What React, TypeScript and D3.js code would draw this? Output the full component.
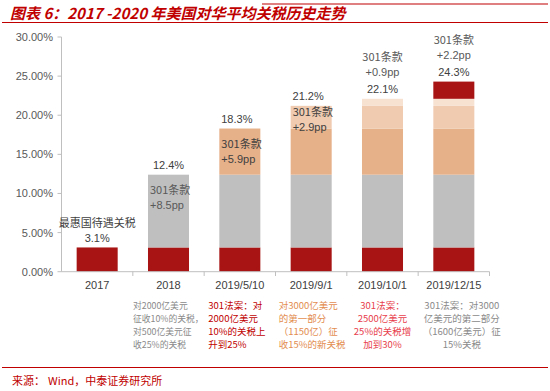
import React from "react";
import * as d3 from "d3";

const categories = ["2017", "2018", "2019/5/10", "2019/9/1", "2019/10/1", "2019/12/15"];
const mfn = [3.1, 3.1, 3.1, 3.1, 3.1, 3.1];
const s301a = [0, 9.3, 9.3, 9.3, 9.3, 9.3];
const s301b = [0, 0, 5.9, 5.9, 5.9, 5.9];
const s301c = [0, 0, 0, 2.9, 2.9, 2.9];
const s301d = [0, 0, 0, 0, 0.9, 0.9];
const s301e = [0, 0, 0, 0, 0, 2.2];
const totals = ["3.1%", "12.4%", "18.3%", "21.2%", "22.1%", "24.3%"];
const incLabels = ["", "+8.5pp", "+5.9pp", "+2.9pp", "+0.9pp", "+2.2pp"];
const yTicks = [0, 5, 10, 15, 20, 25, 30];
const notes = [
  [],
  ["对2000亿美元", "征收10%的关税，", "对500亿美元征", "收25%的关税"],
  ["301法案：对", "2000亿美元", "10%的关税上", "升到25%"],
  ["对3000亿美元", "的第一部分", "（1150亿）征", "收15%的新关税"],
  ["301法案：", "2500亿美元", "25%的关税增", "加到30%"],
  ["301法案：对3000", "亿美元的第二部分", "（1600亿美元）征", "15%关税"],
];
const noteColors = ["#7f7f7f", "#8a8a8a", "#c00000", "#e38d4f", "#e8404c", "#8a8a8a"];
const seriesKeys = ["mfn", "a", "b", "c", "d", "e"];
const seriesColors = ["#a81414", "#bfbfbf", "#e6b089", "#f0cbb0", "#f7e1d1", "#a81414"];

const W = 550, H = 391;
const CJK = "'Noto Sans CJK SC', sans-serif";
const LAT = "'Liberation Sans', Arial, sans-serif";

export default function App() {
  const x = d3.scaleBand<string>().domain(categories).range([61.5, 489.5]).paddingInner(0.425).paddingOuter(0.2125);
  const y = d3.scaleLinear().domain([0, 30]).range([271.7, 37]);
  const rows = categories.map((c, i) => ({
    cat: c, mfn: mfn[i], a: s301a[i], b: s301b[i], c: s301c[i], d: s301d[i], e: s301e[i],
  }));
  const stack = d3.stack<any>().keys(seriesKeys)(rows);
  const step = x.step();
  const bw = x.bandwidth();
  const cx = (c: string) => (x(c) as number) + bw / 2;
  const totalVals = categories.map((_, i) => mfn[i] + s301a[i] + s301b[i] + s301c[i] + s301d[i] + s301e[i]);
  const textCol = "#404040";

  return (
    <svg width={W} height={H} style={{ position: "absolute", left: 0, top: 0, background: "#fff" }}>
      {/* header */}
      <text x={10} y={19} fill="#c00000" fontFamily={CJK} fontSize={15} fontWeight="bold" fontStyle="italic">
        图表 6：2017 -2020 年美国对华平均关税历史走势
      </text>
      <line x1={262} x2={548} y1={4} y2={4} stroke="#c00000" strokeWidth={1.2} />
      <line x1={2} x2={548} y1={22.5} y2={22.5} stroke="#c00000" strokeWidth={1.2} />

      {/* y axis */}
      <line x1={61.5} x2={61.5} y1={y(30)} y2={y(0)} stroke="#bfbfbf" />
      {yTicks.map((t) => (
        <g key={t}>
          <line x1={57.5} x2={61.5} y1={y(t)} y2={y(t)} stroke="#bfbfbf" />
          <text x={53} y={y(t) + 4} textAnchor="end" fontFamily={LAT} fontSize={11} fill="#595959">
            {t.toFixed(2)}%
          </text>
        </g>
      ))}

      {/* bars */}
      {stack.map((s, si) => (
        <g key={si} fill={seriesColors[si]}>
          {s.map((d, i) =>
            d[1] - d[0] > 0 ? (
              <rect key={i} x={x(categories[i])} width={bw} y={y(d[1])} height={y(d[0]) - y(d[1])} />
            ) : null
          )}
        </g>
      ))}

      {/* x axis */}
      <line x1={61.5} x2={489.5} y1={271.7} y2={271.7} stroke="#bfbfbf" />
      {categories.map((c, i) => (
        <line key={"t" + i} x1={61.5 + (i + 1) * step} x2={61.5 + (i + 1) * step} y1={271.7} y2={276} stroke="#bfbfbf" />
      ))}
      {categories.map((c) => (
        <text key={"x" + c} x={cx(c)} y={289} textAnchor="middle" fontFamily={LAT} fontSize={11} fill={textCol}>
          {c}
        </text>
      ))}

      {/* total labels */}
      {categories.map((c, i) => (
        <text key={"tot" + i} x={cx(c) + (i === 2 ? -3 : i === 3 ? -3 : 0)} y={y(totalVals[i]) - (i === 0 ? 5 : 6)} textAnchor="middle" fontFamily={LAT} fontSize={11} fill={textCol}>
          {totals[i]}
        </text>
      ))}
      <text x={cx(categories[0])} y={y(totalVals[0]) - 20} textAnchor="middle" fontFamily={CJK} fontSize={11} fill={textCol}>
        最惠国待遇关税
      </text>

      {/* 301 labels inside bars (2018, 5/10, 9/1) */}
      {[1, 2, 3].map((i) => {
        const top = i === 1 ? y(12.4) : i === 2 ? y(18.3) : y(21.2);
        const off = i === 1 ? 19 : i === 2 ? 19 : 10;
        const col = i === 1 ? "#595959" : "#404040";
        return (
          <g key={"in" + i}>
            <text x={(x(categories[i]) as number) + 2} y={top + off} fontFamily={CJK} fontSize={11} fill={col}>
              301条款
            </text>
            <text x={(x(categories[i]) as number) + 2} y={top + off + 15} fontFamily={LAT} fontSize={11} fill={col}>
              {incLabels[i]}
            </text>
          </g>
        );
      })}
      {/* 301 labels above bars (10/1, 12/15) */}
      {[4, 5].map((i) => {
        const base = y(totalVals[i]) - 6;
        return (
          <g key={"ab" + i}>
            <text x={cx(categories[i])} y={base - 32} textAnchor="middle" fontFamily={CJK} fontSize={11} fill="#595959">
              301条款
            </text>
            <text x={cx(categories[i])} y={base - 17} textAnchor="middle" fontFamily={LAT} fontSize={11} fill="#595959">
              {incLabels[i]}
            </text>
          </g>
        );
      })}

      {/* notes */}
      {notes.map((lines, i) => {
        const centered = i >= 4;
        const xx = centered ? cx(categories[i]) + (i === 5 ? 8 : 0) : (x(categories[i]) as number) - (i === 1 ? 15 : i === 2 ? 11 : 12);
        const fs = i === 1 ? 8.8 : 9.5;
        return lines.map((ln, j) => (
          <text key={"n" + i + j} x={xx} y={309 + j * 13} textAnchor={centered ? "middle" : "start"} fontFamily={CJK} fontSize={fs} fill={noteColors[i]}>
            {ln}
          </text>
        ));
      })}

      {/* footer */}
      <line x1={2} x2={548} y1={367.5} y2={367.5} stroke="#c00000" strokeWidth={1} />
      <text x={12} y={385} fontFamily={CJK} fontSize={11} fill="#c00000">
        来源：
      </text>
      <text x={48} y={385} fontFamily={CJK} fontSize={11} fill="#c00000">
        Wind，中泰证券研究所
      </text>
    </svg>
  );
}
